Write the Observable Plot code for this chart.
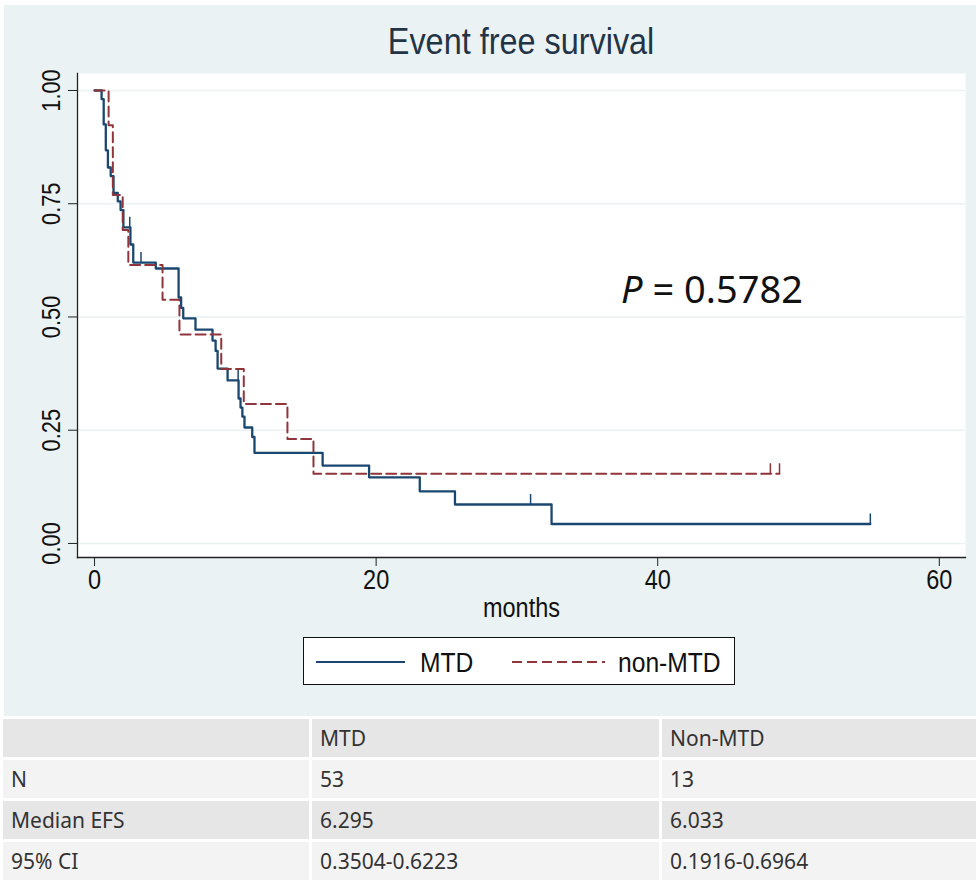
<!DOCTYPE html>
<html>
<head>
<meta charset="utf-8">
<script src="https://cdn.jsdelivr.net/npm/d3@7"></script>
<script src="https://cdn.jsdelivr.net/npm/@observablehq/plot@0.6"></script>
<style>
  html, body { margin: 0; padding: 0; background: #ffffff; }
  #page { position: relative; width: 976px; height: 882px; overflow: hidden; }
  #panel { position: absolute; left: 4px; top: 5px; width: 972px; height: 712px; background: #eaf2f3; }
  #chart { position: absolute; left: 0; top: 0; }
  #title { position: absolute; left: 77px; width: 888px; top: 22px; text-align: center;
           font-family: "Liberation Sans", Arial, sans-serif;
           font-size: 36px; color: #243447; line-height: 40px; }
  #title span { display: inline-block; transform: scaleX(0.9); }
  #pval { position: absolute; left: 621px; top: 264px; font-family: "Noto Sans", sans-serif;
          font-size: 38px; color: #111; line-height: 48px; white-space: nowrap; }
  #legend { position: absolute; left: 303px; top: 637px; width: 430px; height: 46px;
            background: #fff; border: 1.5px solid #111; }
  #tbl { position: absolute; left: 0; top: 716px; width: 976px; border-collapse: collapse; table-layout: fixed;
         font-family: "Noto Sans", sans-serif; font-size: 21px; color: #333; }
  #tbl td { height: 38px; padding: 0 0 0 8px; border: 3px solid #fff; white-space: nowrap; }
</style>
</head>
<body>
<div id="page">
  <div id="panel"></div>
  <div id="chart"></div>
  <div id="title"></div>
  <div id="pval"></div>
  <div id="legend"></div>
  <table id="tbl"></table>
</div>
<script>
// ---- data ----
const titleText = "Event free survival";
const xLabel = "months";
const xTicks = [0, 20, 40, 60];
const yTicks = [0, 0.25, 0.5, 0.75, 1];
const groups = ["MTD", "non-MTD"];
const groupColors = ["#1a476f", "#90353b"];
const pText = "0.5782";

// MTD Kaplan-Meier steps (time in months, survival after the step)
const mtdTime = [0, 0.5, 0.65, 0.8, 0.95, 1.15, 1.35, 1.65, 1.85, 2.05, 2.55, 2.75, 4.35, 5.97, 6.15, 6.3, 7.17, 8.38, 8.6, 8.74, 9.45, 10.23, 10.37, 10.5, 10.65, 11.2, 11.36, 16.2, 19.5, 23.1, 25.6, 32.46];
const mtdSurv = [1, 0.981, 0.925, 0.868, 0.830, 0.811, 0.774, 0.755, 0.736, 0.698, 0.660, 0.620, 0.607, 0.543, 0.520, 0.497, 0.472, 0.448, 0.425, 0.386, 0.360, 0.320, 0.300, 0.280, 0.256, 0.235, 0.200, 0.172, 0.146, 0.115, 0.086, 0.043];
const mtdEnd = 55.1;
const mtdCensorTime = [2.5, 3.3, 10.2, 30.97, 55.1];
const mtdCensorSurv = [0.698, 0.620, 0.360, 0.086, 0.043];

// non-MTD Kaplan-Meier steps
const nonTime = [0, 1.0, 1.3, 2.0, 2.4, 4.83, 6.03, 9.0, 10.6, 13.7, 15.55];
const nonSurv = [1, 0.923, 0.769, 0.692, 0.615, 0.538, 0.4615, 0.385, 0.3077, 0.2308, 0.1538];
const nonEnd = 48.65;
const nonCensorTime = [48.0, 48.65];
const nonCensorSurv = [0.1538, 0.1538];

// table
const tableHeader = ["", "MTD", "Non-MTD"];
const tableRowLabels = ["N", "Median EFS", "95% CI"];
const tableMTD = ["53", "6.295", "0.3504-0.6223"];
const tableNon = ["13", "6.033", "0.1916-0.6964"];

// ---- build ----
function series(times, surv, end) {
  const rows = times.map((t, i) => ({t, s: surv[i]}));
  rows.push({t: end, s: surv[surv.length - 1]});
  return rows;
}
const mtdRows = series(mtdTime, mtdSurv, mtdEnd);
const nonRows = series(nonTime, nonSurv, nonEnd);
const mtdCens = mtdCensorTime.map((t, i) => ({t, s: mtdCensorSurv[i]}));
const nonCens = nonCensorTime.map((t, i) => ({t, s: nonCensorSurv[i]}));

const axisFont = '"Liberation Sans", Arial, sans-serif';
const narrow = 0.84;

const chart = Plot.plot({
  width: 976,
  height: 700,
  marginLeft: 77,
  marginRight: 11,
  marginTop: 73,
  marginBottom: 143,
  style: {background: "transparent", fontFamily: axisFont, color: "#111", overflow: "visible"},
  x: {domain: [-1.21, 61.86]},
  y: {domain: [-0.031, 1.0375]},
  marks: [
    Plot.frame({fill: "#ffffff", stroke: null}),
    Plot.ruleY(yTicks, {stroke: "#eaf2f3", strokeWidth: 1.5}),
    Plot.line(mtdRows, {x: "t", y: "s", curve: "step-after", stroke: groupColors[0], strokeWidth: 2.3}),
    Plot.line(nonRows, {x: "t", y: "s", curve: "step-after", stroke: groupColors[1], strokeWidth: 2, strokeDasharray: "10,5"}),
    Plot.ruleX(mtdCens, {x: "t", y1: "s", y2: "s", insetTop: -10, stroke: groupColors[0], strokeWidth: 1.5}),
    Plot.ruleX(nonCens, {x: "t", y1: "s", y2: "s", insetTop: -10, stroke: groupColors[1], strokeWidth: 1.5}),
    Plot.frame({anchor: "left", stroke: "#222", strokeWidth: 1.3}),
    Plot.frame({anchor: "bottom", stroke: "#222", strokeWidth: 1.3}),
    Plot.axisY({ticks: yTicks, tickSize: 9, tickFormat: () => "", label: null, stroke: "#222"}),
    Plot.text(yTicks, {y: d => d, text: d => d3.format(".2f")(d), frameAnchor: "left", dx: -26, rotate: -90,
      textAnchor: "middle", fontSize: 26, fill: "#111"}),
    Plot.axisX({ticks: xTicks, tickSize: 9, tickPadding: 3, fontSize: 28, label: null, stroke: "#222", fill: "#111"}),
    Plot.text([xLabel], {frameAnchor: "bottom", dy: 51, fontSize: 28, fill: "#111", lineAnchor: "middle"})
  ]
});
// narrow the axis lettering to match the condensed look of the reference
chart.querySelectorAll("text").forEach(el => {
  const t = el.getAttribute("transform") || "";
  const x = +(el.getAttribute("x") || 0);
  el.setAttribute("transform", `${t} translate(${x},0) scale(${narrow},1) translate(${-x},0)`);
});
document.getElementById("chart").appendChild(chart);

d3.select("#title").append("span").text(titleText);
document.getElementById("pval").innerHTML = '<i>P</i> = ' + pText;

// legend
const lg = d3.select("#legend").append("svg").attr("width", 430).attr("height", 46);
const legendItems = [
  {label: groups[0], color: groupColors[0], dash: null, x0: 12, x1: 101, tx: 116},
  {label: groups[1], color: groupColors[1], dash: "10,5", x0: 208, x1: 301, tx: 314}
];
legendItems.forEach(d => {
  lg.append("line").attr("x1", d.x0).attr("x2", d.x1).attr("y1", 24).attr("y2", 24)
    .attr("stroke", d.color).attr("stroke-width", 2).attr("stroke-dasharray", d.dash);
  lg.append("text").attr("x", 0).attr("y", 0).attr("dy", "0.36em").text(d.label)
    .attr("transform", `translate(${d.tx},24) scale(0.88,1)`)
    .attr("font-family", axisFont).attr("font-size", 28).attr("fill", "#111");
});

// table
const tbl = d3.select("#tbl");
const colW = [309, 350, 317];
const cg = tbl.append("colgroup");
colW.forEach(w => cg.append("col").style("width", w + "px"));
const rows = [tableHeader].concat(tableRowLabels.map((r, i) => [r, tableMTD[i], tableNon[i]]));
const rowBg = ["#e6e6e6", "#f3f3f3", "#e6e6e6", "#f3f3f3"];
rows.forEach((r, i) => {
  const tr = tbl.append("tr").style("background", rowBg[i]);
  r.forEach(c => tr.append("td").text(c));
});
</script>
</body>
</html>
